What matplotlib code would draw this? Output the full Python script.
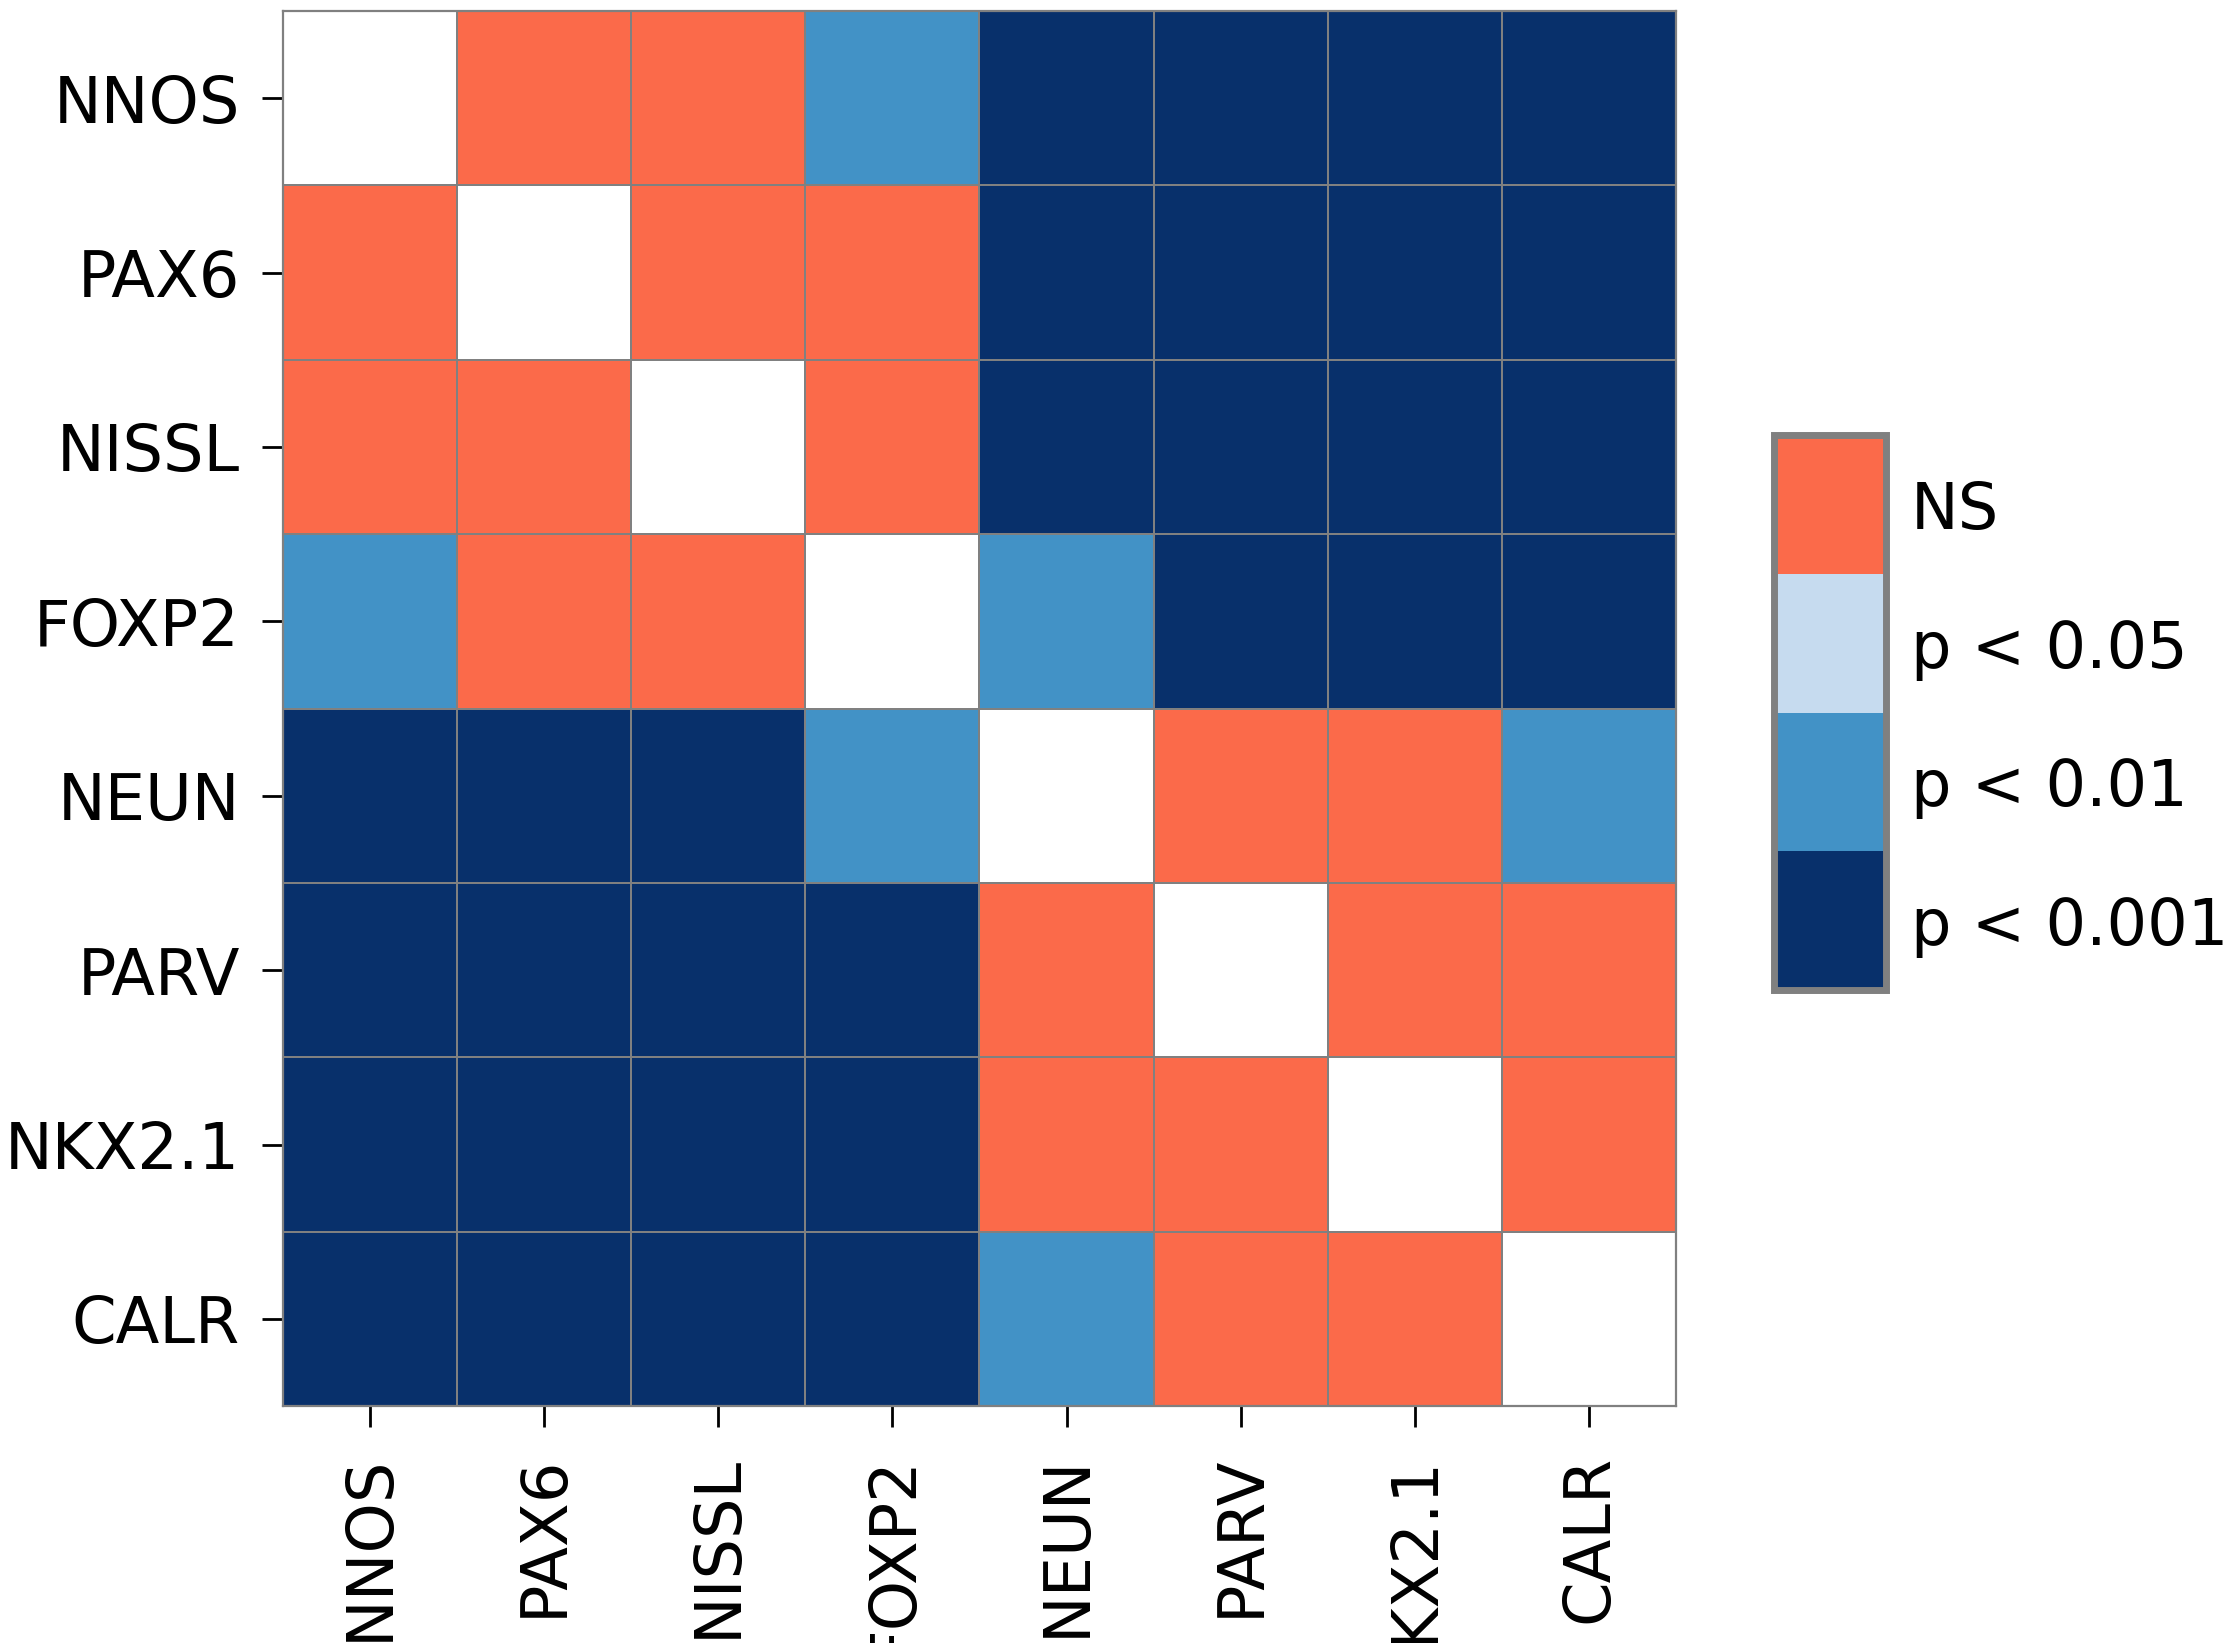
import numpy as np
import matplotlib
matplotlib.use('Agg')
import matplotlib.pyplot as plt
from matplotlib.colors import ListedColormap, BoundaryNorm

markers = ['NNOS', 'PAX6', 'NISSL', 'FOXP2', 'NEUN', 'PARV', 'NKX2.1', 'CALR']

# significance codes: 0 = p<0.001, 1 = p<0.01, 2 = p<0.05, 3 = NS, -1 = diagonal
sig = [
    [-1, 3, 3, 1, 0, 0, 0, 0],
    [3, -1, 3, 3, 0, 0, 0, 0],
    [3, 3, -1, 3, 0, 0, 0, 0],
    [1, 3, 3, -1, 1, 0, 0, 0],
    [0, 0, 0, 1, -1, 3, 3, 1],
    [0, 0, 0, 0, 3, -1, 3, 3],
    [0, 0, 0, 0, 3, 3, -1, 3],
    [0, 0, 0, 0, 1, 3, 3, -1],
]
sig_labels = ['p < 0.001', 'p < 0.01', 'p < 0.05', 'NS']
sig_colors = ['#08306b', '#4292c6', '#c6dbef', '#fb6a4a']

data = np.ma.masked_less(np.array(sig, dtype=float), 0)
cmap = ListedColormap(sig_colors)
norm = BoundaryNorm([0, 1, 2, 3, 4], cmap.N)

fig = plt.figure(figsize=(11.135, 8.215), dpi=200)
ax = fig.add_axes([0.127, 0.1442, 0.6256, 0.8491])
mesh = ax.pcolormesh(data + 0.5, cmap=cmap, norm=norm,
                     edgecolors='gray', linewidth=0.6)
ax.set_xlim(0, len(markers))
ax.set_ylim(len(markers), 0)
ax.set_xticks(np.arange(len(markers)) + 0.5)
ax.set_yticks(np.arange(len(markers)) + 0.5)
ax.set_xticklabels(markers, rotation=90, fontsize=23)
ax.set_yticklabels(markers, fontsize=23)
ax.tick_params(axis='both', length=7.5, width=1.0)
ax.tick_params(axis='x', pad=10)
ax.tick_params(axis='y', pad=8)
for s in ax.spines.values():
    s.set_edgecolor('gray')
    s.set_linewidth(0.8)

cax = fig.add_axes([0.7966, 0.3974, 0.0503, 0.3378])
cbar = fig.colorbar(mesh, cax=cax, ticks=[0.5, 1.5, 2.5, 3.5])
cbar.ax.set_yticklabels(sig_labels, fontsize=23)
cbar.ax.minorticks_off()
cbar.ax.tick_params(which='both', length=0, pad=9)
cbar.outline.set_edgecolor('gray')
cbar.outline.set_linewidth(2.5)

fig.savefig('out.png', dpi=200)
